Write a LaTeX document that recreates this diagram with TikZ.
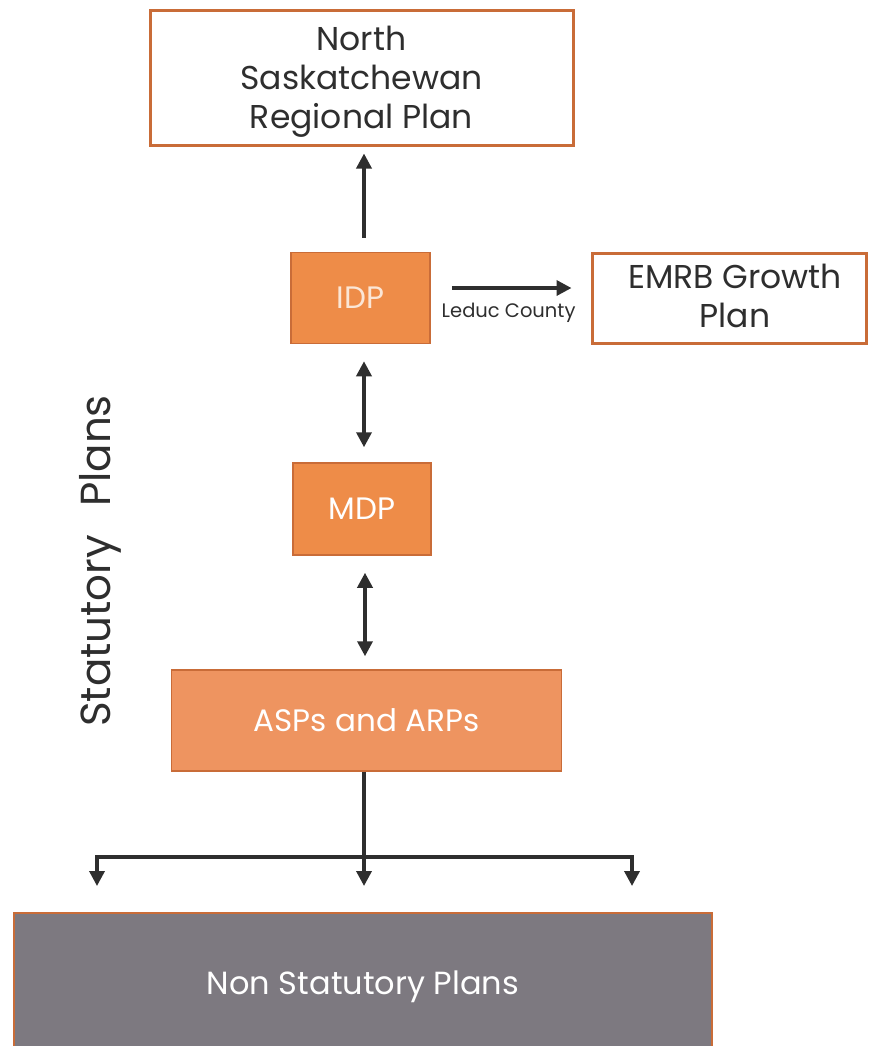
\documentclass[tikz,border=0pt]{standalone}
\usepackage{fontspec}
\setmainfont{Poppins}
\usetikzlibrary{arrows.meta,calc}
\definecolor{edgeor}{HTML}{C96C38}
\definecolor{fillor}{HTML}{EE8C48}
\definecolor{fillor2}{HTML}{EE9460}
\definecolor{nsgray}{HTML}{7D7980}
\definecolor{ink}{HTML}{2E2E2E}
\definecolor{paleText}{HTML}{FBE6D6}
\newcommand\shiftbox[3]{\kern#1\raisebox{-#2}[\height][\depth]{\begin{tabular}{@{}c@{}}#3\end{tabular}}}
\begin{document}
\begin{tikzpicture}[x=1pt,y=-1pt,
  whitebox/.style={draw=edgeor,line width=3pt,fill=white,text=ink,align=center,inner sep=0pt,
    font=\fontsize{33}{39}\selectfont},
  orbox/.style={draw=edgeor,line width=1.5pt,fill=fillor,text=white,align=center,inner sep=0pt,
    font=\fontsize{31}{40}\selectfont},
  conn/.style={draw=ink,line width=3.5pt},
  arr/.style={conn,-{Triangle[length=15pt,width=15pt]}},
  darr/.style={conn,{Triangle[length=15pt,width=15pt]}-{Triangle[length=15pt,width=15pt]}},
]
\useasboundingbox (0,0) rectangle (869,1046);
% nodes
\node[whitebox,minimum width=423pt,minimum height=134pt] (top) at (361.5,78) {\shiftbox{0pt}{4pt}{North\\Saskatchewan\\Regional Plan}};
\node[orbox,minimum width=139pt,minimum height=91pt,text=paleText] (idp) at (360.5,298) {IDP};
\node[whitebox,minimum width=274pt,minimum height=90pt] (emrb) at (729,298) {\shiftbox{12pt}{2pt}{EMRB Growth\\Plan}};
\node[orbox,minimum width=138pt,minimum height=92pt] (mdp) at (362,509) {MDP};
\node[orbox,fill=fillor2,minimum width=390pt,minimum height=101pt] (asps) at (366.5,720.5) {ASPs and ARPs};
\node[draw=edgeor,line width=2pt,fill=nsgray,text=white,inner sep=0pt,minimum width=698pt,minimum height=139pt,
  font=\fontsize{32}{38}\selectfont] (nsp) at (363,982.5) {\raisebox{-4pt}[\height][\depth]{Non Statutory Plans}};
\node[rotate=90,text=ink,inner sep=0pt,font=\fontsize{42}{48}\selectfont] (stat) at (100,561) {Statutory\hspace{0.4em} Plans};
% connectors
\draw[arr,shorten <=14pt,shorten >=7pt] ([xshift=3.5pt]idp.north) -- ([xshift=3.5pt]idp.north |- top.south);
\draw[arr,shorten <=21pt,shorten >=19pt] ([yshift=10pt]idp.east) -- ([yshift=10pt]idp.east -| emrb.west)
  node[midway,yshift=-25pt,xshift=-2pt,text=ink,font=\fontsize{19.5}{22}\selectfont] (leduc) {Leduc County};
\draw[darr,shorten <=17pt,shorten >=15pt] ([xshift=3.5pt]idp.south) -- ([xshift=3.5pt]idp.south |- mdp.north);
\draw[darr,shorten <=17pt,shorten >=13pt] ([xshift=3pt]mdp.south) -- ([xshift=3pt]mdp.south |- asps.north);
\coordinate (bar) at (364,857);
\coordinate (barL) at (97,857);
\coordinate (barR) at (632,857);
\draw[conn] (asps.south -| bar) -- (bar);
\draw[conn,line cap=butt] ([xshift=-1.75pt]barL) -- ([xshift=1.75pt]barR);
\draw[arr,shorten >=26pt] (barL) -- (barL |- nsp.north);
\draw[arr,shorten >=26pt] (bar) -- (bar |- nsp.north);
\draw[arr,shorten >=26pt] (barR) -- (barR |- nsp.north);
\end{tikzpicture}
\end{document}
